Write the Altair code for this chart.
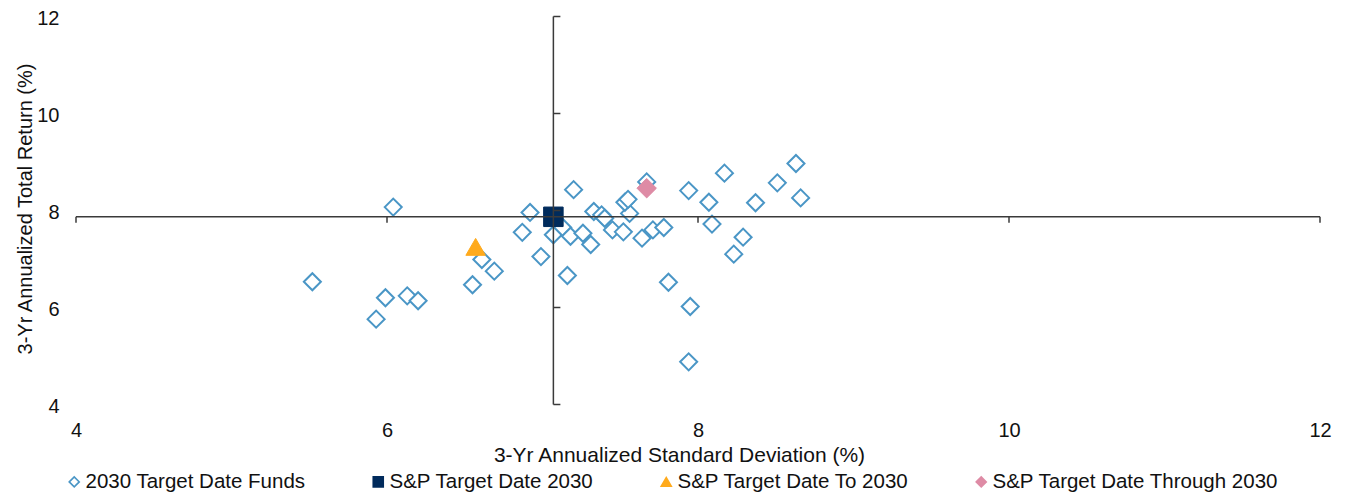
import altair as alt
import pandas as pd

# ---- data ----
series_names = ["2030 Target Date Funds", "S&P Target Date 2030",
                "S&P Target Date To 2030", "S&P Target Date Through 2030"]

fund_sd = [5.52, 5.93, 5.99, 6.04, 6.13, 6.20, 6.55, 6.61, 6.69, 6.87,
           6.92, 6.99, 7.07, 7.13, 7.18, 7.16, 7.20, 7.26, 7.31, 7.33,
           7.38, 7.40, 7.45, 7.52, 7.56, 7.53, 7.55, 7.67, 7.64, 7.71,
           7.78, 7.81, 7.94, 7.95, 7.94, 8.07, 8.09, 8.17, 8.23, 8.29,
           8.37, 8.51, 8.63, 8.66]
fund_ret = [6.53, 5.76, 6.20, 8.07, 6.24, 6.14, 6.47, 6.99, 6.75, 7.55,
            7.96, 7.05, 7.50, 7.65, 7.47, 6.66, 8.43, 7.53, 7.30, 7.98,
            7.91, 7.84, 7.60, 7.56, 7.94, 8.17, 8.23, 8.59, 7.43, 7.60,
            7.65, 6.52, 8.41, 6.02, 4.88, 8.17, 7.72, 8.77, 7.10, 7.45,
            8.16, 8.57, 8.97, 8.26]

bench_sd = [7.07, 6.57, 7.67]
bench_ret = [7.87, 7.25, 8.46]

tick_values = [4, 6, 8, 10, 12]

# axes cross at the S&P Target Date 2030 benchmark
cross_sd = bench_sd[0]
cross_ret = bench_ret[0]

funds_df = pd.DataFrame({"series": [series_names[0]] * len(fund_sd),
                         "sd": fund_sd, "ret": fund_ret})
bench_df = pd.DataFrame({"series": series_names[1:], "sd": bench_sd, "ret": bench_ret})

FONT = "Liberation Sans"
TXT = "#111111"
AXC = "#3a3a3a"

xscale = alt.Scale(domain=[4, 12], nice=False, zero=False)
yscale = alt.Scale(domain=[4, 12], nice=False, zero=False)

xaxis = alt.Axis(values=tick_values, grid=False, domain=False, ticks=False,
                 labelFlush=False, labelPadding=16, labelFontSize=20,
                 labelFont=FONT, labelColor=TXT, format="d",
                 title="3-Yr Annualized Standard Deviation (%)",
                 titleFont=FONT, titleFontSize=21, titleFontWeight="normal",
                 titleColor=TXT, titleBaseline="alphabetic",
                 titleX=603, titleY=57, titleAlign="center")
yaxis = alt.Axis(values=tick_values, grid=False, domain=False, ticks=False,
                 labelFlush=False, labelPadding=17, labelFontSize=20,
                 labelFont=FONT, labelColor=TXT, format="d", labelOffset=2,
                 title="3-Yr Annualized Total Return (%)",
                 titleFont=FONT, titleFontSize=20, titleFontWeight="normal",
                 titleColor=TXT, titleBaseline="alphabetic", titleAngle=-90,
                 titleX=-45, titleY=192, titleAlign="center")

legend = alt.Legend(orient="none", legendX=-12, legendY=455, direction="horizontal",
                    title=None, labelFont=FONT, labelFontSize=20.5, labelColor=TXT,
                    labelLimit=0, symbolSize=100, symbolStrokeWidth=1.6,
                    columnPadding=62, labelOffset=1)

shape_scale = alt.Scale(domain=series_names,
                        range=["diamond", "square", "triangle-up", "diamond"])
fill_scale = alt.Scale(domain=series_names,
                       range=["#ffffff", "#002B5C", "#FFAA1C", "#DE8BA5"])
stroke_scale = alt.Scale(domain=series_names,
                         range=["#4A96C6", "#002B5C", "#FFAA1C", "#DE8BA5"])


def enc(chart):
    return chart.encode(
        x=alt.X("sd:Q", scale=xscale, axis=xaxis),
        y=alt.Y("ret:Q", scale=yscale, axis=yaxis),
        shape=alt.Shape("series:N", scale=shape_scale, legend=legend),
        fill=alt.Fill("series:N", scale=fill_scale, legend=legend),
        stroke=alt.Stroke("series:N", scale=stroke_scale, legend=legend),
    )


funds = enc(alt.Chart(funds_df).mark_point(strokeWidth=2, opacity=1, size=290))
bench = enc(alt.Chart(bench_df).mark_point(strokeWidth=1, opacity=1, size=380))

vline = alt.Chart(pd.DataFrame({"sd": [cross_sd]})).mark_rule(
    color=AXC, strokeWidth=1.5).encode(x=alt.X("sd:Q", scale=xscale))
hline = alt.Chart(pd.DataFrame({"ret": [cross_ret]})).mark_rule(
    color=AXC, strokeWidth=1.5).encode(y=alt.Y("ret:Q", scale=yscale))

xticks = alt.Chart(pd.DataFrame({"sd": tick_values})).mark_rule(
    color=AXC, strokeWidth=1.5, y2Offset=6).encode(
    x=alt.X("sd:Q", scale=xscale),
    y=alt.datum(cross_ret), y2=alt.datum(cross_ret))
yticks = alt.Chart(pd.DataFrame({"ret": tick_values})).mark_rule(
    color=AXC, strokeWidth=1.5, x2Offset=7).encode(
    y=alt.Y("ret:Q", scale=yscale),
    x=alt.datum(cross_sd), x2=alt.datum(cross_sd))

chart = alt.layer(funds, bench, vline, hline, xticks, yticks).properties(
    width=1244, height=388,
    padding={"left": 68, "top": 8.5, "right": 17, "bottom": 87.5},
    autosize=alt.AutoSizeParams(type="none"),
    background="white",
).configure_view(stroke=None)

chart.save("out.html", embed_options={"renderer": "svg", "actions": False})
